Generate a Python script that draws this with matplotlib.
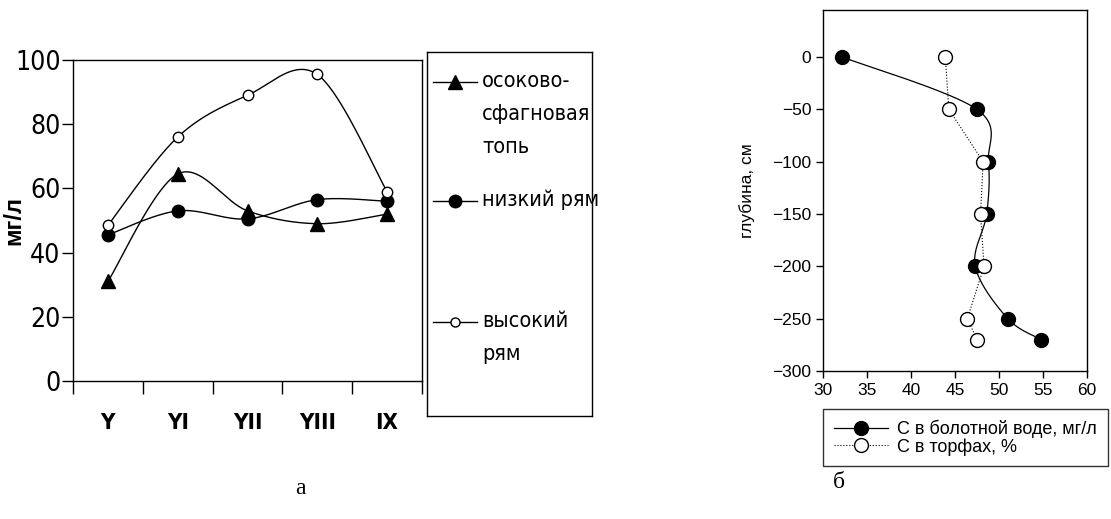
import matplotlib
matplotlib.use('Agg')
import matplotlib.pyplot as plt
import numpy as np
from matplotlib.lines import Line2D
from matplotlib import font_manager
from matplotlib.ft2font import FT2Font

# --- data: panel a ---
months = ['Y', 'YI', 'YII', 'YIII', 'IX']
topl = [31, 64.5, 53, 49, 52]          # осоково-сфагновая топь
nizk = [45.5, 53, 50.5, 56.5, 56]      # низкий рям
vys = [48.5, 76, 89, 95.5, 59]         # высокий рям

# --- data: panel b ---
depth = [0, -50, -100, -150, -200, -250, -270]
c_voda = [32.2, 47.5, 48.8, 48.6, 47.3, 51.0, 54.8]
c_torf = [43.9, 44.3, 48.2, 47.9, 48.3, 46.4, 47.5]

W, H = 1111, 519
arial = ['Liberation Sans', 'DejaVu Sans']
serif = ['Liberation Serif', 'DejaVu Serif']


def has_cyr(fname):
    try:
        cm = FT2Font(fname).get_charmap()
        return ord('я') in cm and ord('ф') in cm
    except Exception:
        return False


# ищем узкий шрифт с кириллицей (в оригинале Arial Narrow)
narrow_font = None
for f in font_manager.fontManager.ttflist:
    cond = ('Narrow' in f.name or 'Condensed' in f.name or
            str(f.stretch) in ('condensed', 'semi-condensed', 'extra-condensed'))
    if cond and f.style == 'normal' and has_cyr(f.fname):
        narrow_font = f
        if f.weight in (400, 'normal', 'regular'):
            break
if narrow_font is None:
    narrow = dict(family=arial, stretch='normal')
    k = 0.86   # нет узкого шрифта - уменьшаем размер
else:
    narrow = dict(family=[narrow_font.name, 'DejaVu Sans'], stretch=narrow_font.stretch)
    k = 1.0


def smooth(xs, ys, n=40):
    # сглаживание как в Excel (кривые Безье через точки)
    p = np.column_stack([xs, ys]).astype(float)
    out = [p[0]]
    for i in range(len(p) - 1):
        p0 = p[i - 1] if i > 0 else p[i]
        p3 = p[i + 2] if i + 2 < len(p) else p[i + 1]
        c1 = p[i] + (p[i + 1] - p0) / 6
        c2 = p[i + 1] - (p3 - p[i]) / 6
        t = np.linspace(0, 1, n)[1:, None]
        seg = ((1 - t) ** 3) * p[i] + 3 * ((1 - t) ** 2) * t * c1 + 3 * (1 - t) * t ** 2 * c2 + t ** 3 * p[i + 1]
        out.extend(seg)
    out = np.array(out)
    return out[:, 0], out[:, 1]


def fx(px):
    return px / W


def fy(py):
    return 1 - py / H


fig = plt.figure(figsize=(W / 100, H / 100), dpi=100)

# ---------- panel a ----------
ax = fig.add_axes([fx(73), fy(381), (422 - 73) / W, (381 - 60) / H])
x = np.arange(len(months))
series = [(topl, '^', 'black', 10), (nizk, 'o', 'black', 9), (vys, 'o', 'white', 7.5)]
for vals, m, fc, ms in series:
    sx, sy = smooth(x, vals)
    ax.plot(sx, sy, color='black', lw=1)
    ax.plot(x, vals, linestyle='none', marker=m, markersize=ms,
            markerfacecolor=fc, markeredgecolor='black', markeredgewidth=1)
ax.set_xlim(-0.5, 4.5)
ax.set_ylim(0, 100)
ax.set_yticks([0, 20, 40, 60, 80, 100])
ax.set_xticks(np.arange(-0.5, 5, 1))
ax.set_xticklabels([])
ax.set_xticks(x, minor=True)
ax.set_xticklabels(months, minor=True, fontfamily=narrow['family'], fontstretch=narrow['stretch'],
                   fontweight='bold', fontsize=16 * k)
ax.tick_params(axis='x', which='major', length=9, direction='out', width=1)
ax.tick_params(axis='x', which='minor', length=0, pad=23)
ax.tick_params(axis='y', length=8, direction='out', width=1, pad=1)
for lab in ax.get_yticklabels():
    lab.set_fontfamily(narrow['family'])
    lab.set_fontstretch(narrow['stretch'])
    lab.set_fontsize(19 * k)
ax.set_ylabel('мг/л', fontfamily=arial, fontweight='bold', fontsize=17)
ax.yaxis.set_label_coords((25 - 73) / 349, 0.5)
for s in ax.spines.values():
    s.set_linewidth(1)

# legend box of panel a
lg = fig.add_axes([fx(427), fy(416), (592 - 427) / W, (416 - 52) / H])
lg.set_xlim(427, 592)
lg.set_ylim(416, 52)
lg.set_xticks([])
lg.set_yticks([])
for s in lg.spines.values():
    s.set_linewidth(1)
leg_items = [('^', 'black', 10, 82, 'осоково-\nсфагновая\nтопь'),
             ('o', 'black', 9, 201, 'низкий рям'),
             ('o', 'white', 6.5, 322, 'высокий\nрям')]
for m, fc, ms, yy, txt in leg_items:
    lg.add_line(Line2D([433, 477], [yy, yy], color='black', lw=1))
    lg.plot([455], [yy], marker=m, markersize=ms, markerfacecolor=fc,
            markeredgecolor='black', linestyle='none')
    lg.text(482, yy - 11, txt, fontfamily=narrow['family'], fontstretch=narrow['stretch'],
            fontsize=15.5 * k, va='top', ha='left', linespacing=1.8)

fig.text(fx(300), fy(488), 'а', fontfamily=serif, fontsize=17, ha='center', va='center')

# ---------- panel b ----------
bx = fig.add_axes([fx(823), fy(371), (1087 - 823) / W, (371 - 10) / H])
sx, sy = smooth(c_voda, depth)
bx.plot(sx, sy, color='black', lw=0.9)
bx.plot(c_voda, depth, linestyle='none', marker='o', markersize=10,
        markerfacecolor='black', markeredgecolor='black')
bx.plot(c_torf, depth, color='black', lw=0.8, linestyle=':', marker='o', markersize=10,
        markerfacecolor='white', markeredgecolor='black')
h1 = Line2D([], [], color='black', lw=0.9, marker='o', markersize=10,
            markerfacecolor='black', markeredgecolor='black')
h2 = Line2D([], [], color='black', lw=0.8, linestyle=':', marker='o', markersize=10,
            markerfacecolor='white', markeredgecolor='black')
bx.set_xlim(30, 60)
bx.set_ylim(-300, 45)
bx.set_xticks(np.arange(30, 61, 5))
bx.set_yticks(np.arange(-300, 1, 50))
bx.tick_params(length=5, direction='out', width=1, labelsize=12.5)
for lab in bx.get_xticklabels() + bx.get_yticklabels():
    lab.set_fontfamily(arial)
bx.set_ylabel('глубина, см', fontfamily=arial, fontsize=12.5, labelpad=12)
for s in bx.spines.values():
    s.set_linewidth(1)

leg = fig.legend([h1, h2], ['С в болотной воде, мг/л', 'С в торфах, %'],
                 loc='upper left', bbox_to_anchor=(fx(823), fy(409)),
                 borderaxespad=0, fancybox=False, edgecolor='black',
                 prop={'family': arial, 'size': 13}, handlelength=3.0,
                 handletextpad=0.5, labelspacing=0.0, borderpad=0.6)
leg.get_frame().set_linewidth(1)

fig.text(fx(839), fy(483), 'б', fontfamily=serif, fontsize=17, ha='center', va='center')

fig.savefig('out.png', dpi=100)
